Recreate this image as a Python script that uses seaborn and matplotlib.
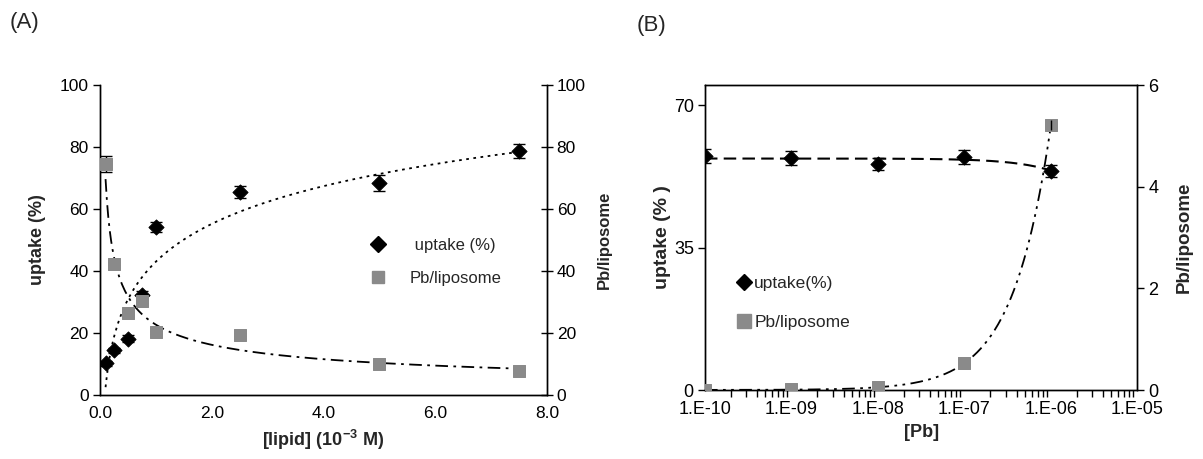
import numpy as np
import pandas as pd
import matplotlib
matplotlib.use("Agg")
import matplotlib.pyplot as plt
from matplotlib.lines import Line2D
from matplotlib.ticker import LogLocator, FixedLocator, NullFormatter
import seaborn as sns

# ---------------- data ----------------
lipid = [0.1, 0.25, 0.5, 0.75, 1.0, 2.5, 5.0, 7.5]
uptake_A = [10.2, 14.5, 18.2, 32.2, 54.2, 65.5, 68.4, 78.6]
uptake_A_err = [0.8, 0.8, 1.0, 1.5, 1.6, 2.0, 2.5, 2.3]
pbl_A = [74.5, 42.3, 26.3, 30.2, 20.2, 19.4, 9.9, 7.7]
pbl_A_err = [2.5, 0.5, 0.5, 0.5, 0.5, 0.5, 0.5, 0.5]

pb_conc = [1e-10, 1e-9, 1e-8, 1e-7, 1e-6]
uptake_B = [57.6, 57.1, 55.5, 57.2, 53.9]
uptake_B_err = [1.7, 1.7, 1.5, 1.7, 1.5]
pbl_B = [0.0, 0.013, 0.05, 0.53, 5.21]
pbl_B_err = [0.0, 0.0, 0.0, 0.0, 0.1]

xticks_B = [1e-10, 1e-9, 1e-8, 1e-7, 1e-6, 1e-5]
xticklabels_B = ["1.E-10", "1.E-09", "1.E-08", "1.E-07", "1.E-06", "1.E-05"]

sns.set_style("white")
plt.rcParams['font.family'] = ['Liberation Sans', 'DejaVu Sans']
plt.rcParams['mathtext.fontset'] = 'custom'
plt.rcParams['mathtext.rm'] = 'Liberation Sans'
plt.rcParams['mathtext.bf'] = 'Liberation Sans:bold'

GRAY = '#8a8a8a'
FSA = 12.5
FSB = 13

fig = plt.figure(figsize=(12.03, 4.59), dpi=100)
axA = fig.add_axes([0.0831, 0.1394, 0.3716, 0.6754])
axA2 = axA.twinx()
axB = fig.add_axes([0.586, 0.1503, 0.3595, 0.6645])
axB2 = axB.twinx()

def style(ax, fs):
    ax.tick_params(axis='both', which='both', direction='out', length=5,
                   width=1, colors='black', labelsize=fs, pad=3)
    for s in ax.spines.values():
        s.set_color('black')
        s.set_linewidth(1)

# ---------------- panel A ----------------
lx = np.log(np.array(lipid))
cu = np.polyfit(lx, np.array(uptake_A), 1)
cp = np.polyfit(lx, np.log(np.array(pbl_A)), 1)
xf = np.linspace(lipid[0], lipid[-1], 300)
fitA = pd.DataFrame({'x': xf,
                     'u': cu[0] * np.log(xf) + cu[1],
                     'p': np.exp(cp[1]) * xf ** cp[0]})

sns.lineplot(data=fitA, x='x', y='u', ax=axA, color='black', lw=1.3,
             linestyle=(0, (1.5, 2.5)), legend=False)
sns.lineplot(data=fitA, x='x', y='p', ax=axA2, color='black', lw=1.3,
             linestyle=(0, (7, 3, 1.5, 3)), legend=False)

axA.errorbar(lipid, uptake_A, yerr=uptake_A_err, fmt='none', ecolor='black',
             elinewidth=1, capsize=4, capthick=1, zorder=3)
axA2.errorbar(lipid, pbl_A, yerr=pbl_A_err, fmt='none', ecolor='black',
              elinewidth=1, capsize=4, capthick=1, zorder=3)
dfA = pd.DataFrame({'x': lipid, 'u': uptake_A, 'p': pbl_A})
sns.scatterplot(data=dfA, x='x', y='u', ax=axA, marker='D', s=60,
                color='black', edgecolor='black', zorder=4, legend=False)
sns.scatterplot(data=dfA, x='x', y='p', ax=axA2, marker='s', s=80,
                color=GRAY, edgecolor=GRAY, zorder=4, legend=False)

axA.set_xlim(0, 8)
axA.set_ylim(0, 100)
axA2.set_ylim(0, 100)
axA.set_xticks(np.arange(0, 8.1, 2))
axA.set_xticklabels([f"{v:.1f}" for v in np.arange(0, 8.1, 2)])
axA.set_yticks(np.arange(0, 101, 20))
axA2.set_yticks(np.arange(0, 101, 20))
for a in (axA, axA2):
    style(a, FSA)
    a.spines['top'].set_visible(False)
axA2.tick_params(axis='y', direction='inout', length=8)
axA.set_xlabel(r"[lipid] (10$^{\mathbf{-3}}$ M)", fontsize=13, fontweight='bold', labelpad=5)
axA.set_ylabel("uptake (%)", fontsize=13, fontweight='bold', labelpad=10)
axA2.set_ylabel("Pb/liposome", fontsize=12, fontweight='bold', labelpad=8)

hA = [Line2D([], [], marker='D', color='black', ls='none', markersize=8),
      Line2D([], [], marker='s', color=GRAY, ls='none', markersize=9)]
axA.legend(hA, [" uptake (%)", "Pb/liposome"], loc='center left',
           bbox_to_anchor=(0.57, 0.43), frameon=False, fontsize=12,
           handletextpad=0.9, labelspacing=1.1, borderaxespad=0)

# ---------------- panel B ----------------
xb = np.array(pb_conc)
bu = np.polyfit(xb * 1e6, np.array(uptake_B), 1)
bp = np.polyfit(xb * 1e6, np.array(pbl_B), 2)
xfb = np.logspace(-10, np.log10(pb_conc[-1]), 400)
fitB = pd.DataFrame({'x': xfb,
                     'u': np.polyval(bu, xfb * 1e6),
                     'p': np.clip(np.polyval(bp, xfb * 1e6), 0, None)})

sns.lineplot(data=fitB, x='x', y='u', ax=axB, color='black', lw=1.5,
             linestyle=(0, (6, 3)), legend=False)
sns.lineplot(data=fitB, x='x', y='p', ax=axB2, color='black', lw=1.3,
             linestyle=(0, (7, 3, 1.5, 3, 1.5, 3)), legend=False)

axB.errorbar(pb_conc, uptake_B, yerr=uptake_B_err, fmt='none', ecolor='black',
             elinewidth=1, capsize=4, capthick=1, zorder=3)
dfB = pd.DataFrame({'x': pb_conc, 'u': uptake_B, 'p': pbl_B})
sns.scatterplot(data=dfB, x='x', y='p', ax=axB2, marker='s', s=80,
                color=GRAY, edgecolor=GRAY, zorder=4, legend=False)
axB2.errorbar(pb_conc, pbl_B, yerr=pbl_B_err, fmt='none', ecolor='black',
              elinewidth=1, capsize=0, zorder=5)
sns.scatterplot(data=dfB, x='x', y='u', ax=axB, marker='D', s=60,
                color='black', edgecolor='black', zorder=4, legend=False)

axB.set_xscale('log')
axB.set_xlim(1e-10, 1e-5)
axB.set_ylim(0, 75)
axB2.set_ylim(0, 6)
axB.set_yticks([0, 35, 70])
axB2.set_yticks([0, 2, 4, 6])
for a in (axB, axB2):
    style(a, FSB)
axB.xaxis.set_major_locator(FixedLocator(xticks_B))
axB.set_xticklabels(xticklabels_B)
axB.xaxis.set_minor_locator(LogLocator(base=10, subs=np.arange(2, 10), numticks=50))
axB.xaxis.set_minor_formatter(NullFormatter())
axB.tick_params(axis='x', which='minor', direction='out', length=5, width=1,
                bottom=True)
axB.set_xlabel("[Pb]", fontsize=13, fontweight='bold', labelpad=4)
axB.set_ylabel("uptake (% )", fontsize=14, fontweight='bold', labelpad=2)
axB2.set_ylabel("Pb/liposome", fontsize=13.5, fontweight='bold', labelpad=12)
axB2.set_zorder(axB.get_zorder() + 1)
axB2.patch.set_visible(False)

hB = [Line2D([], [], marker='D', color='black', ls='none', markersize=8),
      Line2D([], [], marker='s', color=GRAY, ls='none', markersize=10)]
axB.legend(hB, ["uptake(%)", "Pb/liposome"], loc='center left',
           bbox_to_anchor=(0.05, 0.285), frameon=False, fontsize=12.5,
           handletextpad=0.0, labelspacing=1.4, borderaxespad=0,
           handlelength=1.2)

fig.text(0.008, 0.952, "(A)", fontsize=16, va='center', ha='left')
fig.text(0.529, 0.945, "(B)", fontsize=16, va='center', ha='left')

fig.savefig("out.png", dpi=100)
